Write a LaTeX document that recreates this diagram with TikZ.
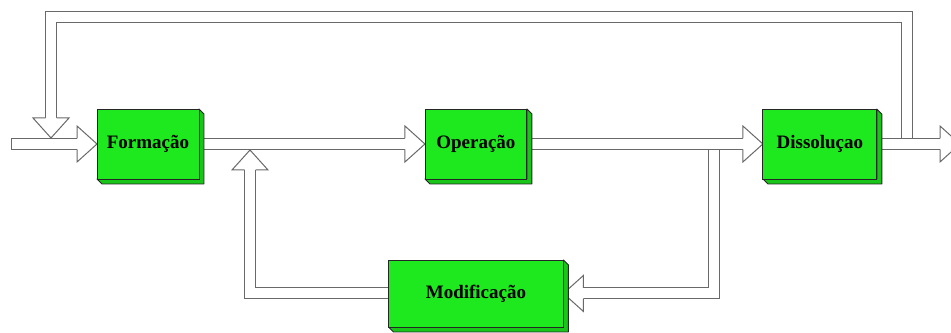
\documentclass[tikz,border=0pt]{standalone}
\usepackage{fontspec}
\setmainfont{Liberation Serif}
\usepackage{tikz}
\usetikzlibrary{positioning, calc, backgrounds}
\definecolor{boxgreen}{RGB}{30, 232, 30}
\definecolor{pipegray}{RGB}{105, 105, 105}

\begin{document}
\begin{tikzpicture}[
  x=0.02cm, y=0.02cm,
  % --- Styles ---
  stage/.style={
    rectangle, draw=black!85, fill=boxgreen, line width=0.5pt,
    outer sep=0pt, inner sep=2pt, minimum width=#1, minimum height=1.4cm,
    font=\bfseries\fontsize{10.8}{13}\selectfont},
  stage/.default=2.04cm,
  boxside/.style={draw=black!85, fill=boxgreen!85!black, line width=0.5pt,
    line join=round},
  pipe/.style={draw=pipegray, line width=0.02cm, double=white,
    double distance=0.2cm, line join=miter},
  tipped/.style={pipe, shorten >=0.38cm},
  hhead/.pic={
    \filldraw[draw=pipegray, fill=white, line width=0.02cm, line join=miter]
      (-20,5.5) -- (-20,18) -- (0,0) -- (-20,-18) -- (-20,-5.5);},
]
\path[use as bounding box, clip] (0,0) rectangle (951,333);
% === STAGES ===
\node[stage] (form) at (148,189) {Formação};
\node[stage, right=4.52cm of form] (oper) {Operação};
\node[stage=2.28cm, right=4.72cm of oper] (diss) {Dissoluçao};
\node[stage=3.5cm, minimum height=1.34cm, below=1.62cm of oper] (modif) {Modificação};
% free ends and junctions on the pipes
\coordinate (src) at (11,189);
\coordinate (sink) at (960,189);
\coordinate (tapTop) at (907,195);
\coordinate (topY) at (0,316);
\coordinate (joinDown) at (51,195);
\coordinate (tapLow) at (714,183);
\coordinate (joinUp) at (250,183);

\begin{scope}[on background layer]
% main line
\draw[tipped] (src) -- (form);
\draw[pipegray, line width=0.02cm] ($(src)+(0,-6)$) -- ($(src)+(0,6)$);
\draw[tipped] (form) -- (oper);
\draw[tipped] (oper) -- (diss);
\draw[tipped] (diss) -- (sink);
% outer return, over the top
\draw[tipped] (tapTop) -- (tapTop |- topY) -| (joinDown);
% lower loop through Modificação
\draw[tipped] (tapLow) |- (modif.east);
\draw[tipped] (modif.west) -| (joinUp);
% heads
\pic at (form.west) {hhead};
\pic at (oper.west) {hhead};
\pic at (diss.west) {hhead};
\pic at (sink) {hhead};
\pic[rotate=-90] at (joinDown) {hhead};
\pic[rotate=180] at (modif.east) {hhead};
\pic[rotate=90] at (joinUp) {hhead};
% 3d sides of the boxes
\foreach \b in {form,oper,diss,modif}
  \filldraw[boxside] (\b.north east) -- ++(5,-5)
    -- ($(\b.south east)+(5,-5)$) -- ($(\b.south west)+(5,-5)$)
    -- (\b.south west) -- (\b.south east) -- cycle;
\end{scope}
\end{tikzpicture}
\end{document}
